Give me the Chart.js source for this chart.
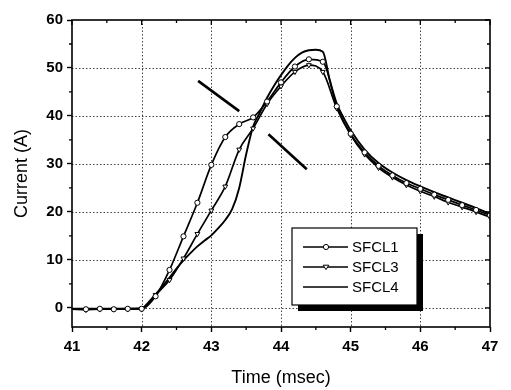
<!DOCTYPE html>
<html lang="en">
<head>
    <meta charset="UTF-8">
    <title>SFCL current</title>
    <script src="https://cdn.jsdelivr.net/npm/chart.js"></script>
    <style>
        body {
            margin: 0;
            background: #fff;
        }
        #wrap {
            width: 511px;
            height: 390px;
        }
    </style>
</head>
<body>
    <div id="wrap"><canvas id="chart" width="511" height="390"></canvas></div>

    <script>
        // Time axis (msec) for the marked curves, one point per marker
        const timeMarked = [41.0, 41.2, 41.4, 41.6, 41.8, 42.0, 42.2, 42.4, 42.6, 42.8,
                            43.0, 43.2, 43.4, 43.6, 43.8, 44.0, 44.2, 44.4, 44.6, 44.8,
                            45.0, 45.2, 45.4, 45.6, 45.8, 46.0, 46.2, 46.4, 46.6, 46.8, 47.0];

        const sfcl1 = [-0.3, -0.3, -0.2, -0.3, -0.2, -0.2, 2.4, 7.9, 14.9, 21.9,
                       29.8, 35.6, 38.3, 39.7, 43.0, 47.0, 50.3, 51.8, 51.3, 42.0,
                       36.3, 32.4, 29.6, 27.6, 26.0, 24.8, 23.6, 22.5, 21.4, 20.4, 19.3];

        const sfcl3 = [-0.3, -0.4, -0.3, -0.3, -0.3, -0.3, 2.7, 5.8, 10.3, 15.4,
                       20.3, 25.3, 33.0, 37.4, 42.5, 46.2, 49.2, 50.6, 49.2, 41.6,
                       36.0, 32.0, 29.2, 27.2, 25.6, 24.3, 23.2, 22.0, 21.0, 20.0, 18.9];

        // SFCL4 has no markers, finer sampling around the rise and the peak
        const timeFine = [41.0, 41.5, 42.0, 42.1, 42.2, 42.3, 42.4, 42.5, 42.6, 42.7,
                          42.8, 42.9, 43.0, 43.1, 43.2, 43.3, 43.4, 43.5, 43.6, 43.7,
                          43.8, 43.9, 44.0, 44.1, 44.2, 44.3, 44.4, 44.5, 44.6, 44.7,
                          44.8, 44.9, 45.0, 45.2, 45.4, 45.6, 45.8, 46.0, 46.2, 46.4,
                          46.6, 46.8, 47.0];

        const sfcl4 = [-0.2, -0.2, -0.1, 1.2, 2.8, 4.5, 6.3, 8.2, 9.9, 11.4,
                       12.8, 14.0, 15.1, 16.6, 18.3, 20.6, 25.0, 32.0, 37.8, 40.8,
                       43.8, 46.3, 48.5, 50.5, 52.1, 53.2, 53.7, 53.8, 53.4, 47.5,
                       42.6, 39.6, 37.0, 33.0, 30.2, 28.2, 26.6, 25.3, 24.1, 23.0,
                       21.9, 20.8, 19.6];

        const xTicks = [41, 42, 43, 44, 45, 46, 47];
        const yTicks = [0, 10, 20, 30, 40, 50, 60];
        const seriesNames = ['SFCL1', 'SFCL3', 'SFCL4'];

        // the two slanted marker strokes, in data units [t1, i1, t2, i2]
        const strokes = [[42.81, 47.3, 43.40, 41.0], [43.82, 36.2, 44.37, 28.9]];

        const tickFont = { family: 'Liberation Sans, Arial, sans-serif', size: 15, weight: 'bold' };
        const titleFont = { family: 'Liberation Sans, Arial, sans-serif', size: 18 };

        function toPoints(xs, ys) {
            return xs.map((t, i) => ({ x: t, y: ys[i] }));
        }

        function drawMarker(ctx, style, x, y) {
            ctx.save();
            ctx.setLineDash([]);
            ctx.lineWidth = 1;
            ctx.strokeStyle = '#000';
            ctx.fillStyle = '#fff';
            ctx.beginPath();
            if (style === 'circle') {
                ctx.arc(x, y, 2.6, 0, Math.PI * 2);
            } else if (style === 'tri') {
                ctx.moveTo(x - 2.8, y - 1.8);
                ctx.lineTo(x + 2.8, y - 1.8);
                ctx.lineTo(x, y + 2.6);
                ctx.closePath();
            }
            ctx.fill();
            ctx.stroke();
            ctx.restore();
        }

        const decor = {
            id: 'decor',
            beforeDatasetsDraw(chart) {
                const { ctx, chartArea: a, scales: { x, y } } = chart;
                ctx.save();
                ctx.strokeStyle = '#444';
                ctx.lineWidth = 1;
                ctx.setLineDash([1.5, 2]);
                xTicks.slice(1, -1).forEach(v => {
                    const px = Math.round(x.getPixelForValue(v)) + 0.5;
                    ctx.beginPath();
                    ctx.moveTo(px, a.top);
                    ctx.lineTo(px, a.bottom);
                    ctx.stroke();
                });
                yTicks.slice(0, -1).forEach(v => {
                    const py = Math.round(y.getPixelForValue(v)) + 0.5;
                    ctx.beginPath();
                    ctx.moveTo(a.left, py);
                    ctx.lineTo(a.right, py);
                    ctx.stroke();
                });
                ctx.restore();
            },
            afterDatasetsDraw(chart) {
                const { ctx, chartArea: a, scales: { x, y } } = chart;
                ctx.save();
                ctx.strokeStyle = '#000';
                ctx.lineWidth = 1.6;
                ctx.strokeRect(a.left, a.top, a.right - a.left, a.bottom - a.top);

                // minor ticks and mirrored ticks on top / right
                ctx.lineWidth = 1.3;
                ctx.beginPath();
                for (let v = 41; v <= 47.001; v += 0.5) {
                    const px = x.getPixelForValue(v);
                    const major = Math.abs(v - Math.round(v)) < 0.01;
                    if (!major) {
                        ctx.moveTo(px, a.bottom);
                        ctx.lineTo(px, a.bottom + 3);
                    }
                    ctx.moveTo(px, a.top);
                    ctx.lineTo(px, a.top + (major ? 5 : 3));
                }
                for (let v = 0; v <= 60; v += 5) {
                    const py = y.getPixelForValue(v);
                    const major = v % 10 === 0;
                    if (!major) {
                        ctx.moveTo(a.left, py);
                        ctx.lineTo(a.left - 3, py);
                    }
                    ctx.moveTo(a.right, py);
                    ctx.lineTo(a.right - (major ? 5 : 3), py);
                }
                ctx.stroke();

                // slanted strokes
                ctx.lineWidth = 2.6;
                strokes.forEach(s => {
                    ctx.beginPath();
                    ctx.moveTo(x.getPixelForValue(s[0]), y.getPixelForValue(s[1]));
                    ctx.lineTo(x.getPixelForValue(s[2]), y.getPixelForValue(s[3]));
                    ctx.stroke();
                });

                // legend box with drop shadow
                const bx = 292, by = 228, bw = 125, bh = 77;
                ctx.fillStyle = '#000';
                ctx.fillRect(bx + 6, by + 6, bw, bh);
                ctx.fillStyle = '#fff';
                ctx.fillRect(bx, by, bw, bh);
                ctx.lineWidth = 1.2;
                ctx.strokeRect(bx, by, bw, bh);
                const styles = ['circle', 'tri', null];
                ctx.font = '15px "Liberation Sans", Arial, sans-serif';
                ctx.textBaseline = 'middle';
                seriesNames.forEach((name, i) => {
                    const ry = by + 19 + i * 20;
                    ctx.lineWidth = 1.6;
                    ctx.beginPath();
                    ctx.moveTo(bx + 11, ry);
                    ctx.lineTo(bx + 56, ry);
                    ctx.stroke();
                    if (styles[i]) drawMarker(ctx, styles[i], bx + 34, ry);
                    ctx.fillStyle = '#000';
                    ctx.fillText(name, bx + 60, ry + 1);
                });
                ctx.restore();
            }
        };

        const common = {
            borderColor: '#000',
            borderWidth: 1.7,
            cubicInterpolationMode: 'monotone',
            pointBorderColor: '#000',
            pointBackgroundColor: '#fff',
            pointBorderWidth: 1,
            fill: false
        };

        new Chart(document.getElementById('chart'), {
            type: 'line',
            data: {
                datasets: [
                    Object.assign({}, common, {
                        label: seriesNames[0],
                        data: toPoints(timeMarked, sfcl1),
                        pointStyle: 'circle',
                        pointRadius: ctx => ctx.dataIndex === 0 ? 0 : 2.6
                    }),
                    Object.assign({}, common, {
                        label: seriesNames[1],
                        data: toPoints(timeMarked, sfcl3),
                        pointStyle: 'triangle',
                        rotation: 180,
                        pointRadius: ctx => ctx.dataIndex === 0 ? 0 : 2.8
                    }),
                    Object.assign({}, common, {
                        label: seriesNames[2],
                        data: toPoints(timeFine, sfcl4),
                        pointRadius: 0,
                        borderWidth: 1.9
                    })
                ]
            },
            options: {
                responsive: false,
                animation: false,
                layout: { padding: { top: 20, right: 21, left: 0, bottom: 0 } },
                plugins: {
                    legend: { display: false },
                    tooltip: { enabled: false }
                },
                scales: {
                    x: {
                        type: 'linear',
                        min: 41,
                        max: 47,
                        afterBuildTicks: s => { s.ticks = xTicks.map(v => ({ value: v })); },
                        afterFit: s => { s.height = 63; },
                        ticks: { color: '#000', font: tickFont, padding: 6, maxRotation: 0 },
                        grid: { drawOnChartArea: false, tickLength: 5, tickColor: '#000', tickWidth: 1.4 },
                        border: { display: false },
                        title: { display: true, text: 'Time (msec)', color: '#000', font: titleFont, padding: { top: 0, bottom: 1 } }
                    },
                    y: {
                        min: -4,
                        max: 60,
                        afterBuildTicks: s => { s.ticks = yTicks.map(v => ({ value: v })); },
                        afterFit: s => { s.width = 72; },
                        ticks: { color: '#000', font: tickFont, padding: 4 },
                        grid: { drawOnChartArea: false, tickLength: 5, tickColor: '#000', tickWidth: 1.4 },
                        border: { display: false },
                        title: { display: true, text: 'Current (A)', color: '#000', font: titleFont, padding: { top: 11, bottom: 0 } }
                    }
                }
            },
            plugins: [decor]
        });
    </script>
</body>
</html>
